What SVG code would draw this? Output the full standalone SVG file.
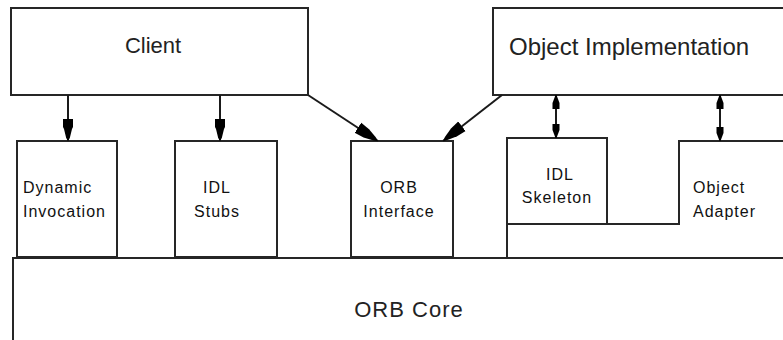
<svg xmlns="http://www.w3.org/2000/svg" width="783" height="340" viewBox="0 0 783 340">
<defs>
<style>
.box{fill:none;stroke:#262626;stroke-width:2}
.con{stroke:#1a1a1a;stroke-width:2;fill:none}
.big{font-family:"Liberation Sans",Arial,sans-serif;font-size:22px;fill:#222}
.obj{font-family:"Liberation Sans",Arial,sans-serif;font-size:24px;fill:#222}
.sm{font-family:"Liberation Sans",Arial,sans-serif;font-size:16px;letter-spacing:1px;fill:#111}
</style>
<marker id="ah" markerUnits="userSpaceOnUse" markerWidth="23" markerHeight="12" refX="22" refY="6" orient="auto">
<path d="M0,1 L8,1 L10,2 L19,4.2 L22,6 L19,7.8 L10,10 L8,11 L0,11 Z" fill="#000"/>
</marker>
<marker id="ahd" markerUnits="userSpaceOnUse" markerWidth="25" markerHeight="14" refX="24" refY="7" orient="auto">
<path d="M0,1 L10,2 L20,5 L24,7 L20,9 L10,12 L0,13 Z" fill="#000"/>
</marker>
<marker id="as" markerUnits="userSpaceOnUse" markerWidth="15" markerHeight="9" refX="14" refY="4.5" orient="auto-start-reverse">
<path d="M0,1 L6,1 L14,4 L14,5 L6,8 L0,8 Z" fill="#000"/>
</marker>
</defs>
<rect width="783" height="340" fill="#fff"/>

<g id="client">
<rect class="box" x="11" y="8" width="297" height="87"/>
<text class="big" x="153" y="53" text-anchor="middle">Client</text>
</g>
<g id="object-implementation">
<rect class="box" x="493" y="8" width="300" height="87"/>
<text class="obj" x="509" y="55">Object Implementation</text>
</g>
<g id="dynamic-invocation">
<rect class="box" x="17" y="141" width="100" height="116"/>
<text class="sm" x="23" y="193">Dynamic</text>
<text class="sm" x="23" y="217">Invocation</text>
</g>
<g id="idl-stubs">
<rect class="box" x="175" y="141" width="102" height="116"/>
<text class="sm" x="217" y="193" text-anchor="middle">IDL</text>
<text class="sm" x="217" y="217" text-anchor="middle">Stubs</text>
</g>
<g id="orb-interface">
<rect class="box" x="351" y="141" width="102" height="116"/>
<text class="sm" x="399" y="193" text-anchor="middle">ORB</text>
<text class="sm" x="399" y="217" text-anchor="middle">Interface</text>
</g>
<g id="idl-skeleton">
<path class="box" d="M507,258 V138 H607 V224"/>
<path class="box" d="M507,224 H680"/>
<text class="sm" x="560" y="180" text-anchor="middle">IDL</text>
<text class="sm" x="557" y="203" text-anchor="middle">Skeleton</text>
</g>
<g id="object-adapter">
<path class="box" d="M679,225 V141 H790"/>
<text class="sm" x="693" y="193">Object</text>
<text class="sm" x="693" y="217">Adapter</text>
</g>
<g id="orb-core">
<rect class="box" x="13" y="258" width="790" height="100"/>
<text class="big" x="409" y="317" text-anchor="middle" letter-spacing="1">ORB Core</text>
</g>

<g id="connectors">
<line class="con" x1="68" y1="95" x2="68" y2="141" marker-end="url(#ah)"/>
<line class="con" x1="220" y1="95" x2="220" y2="141" marker-end="url(#ah)"/>
<line class="con" x1="308" y1="95" x2="378" y2="141" stroke-width="1.5" marker-end="url(#ahd)"/>
<line class="con" x1="502" y1="95" x2="443" y2="141" stroke-width="1.5" marker-end="url(#ahd)"/>
<line class="con" x1="556" y1="95" x2="556" y2="138" marker-start="url(#as)" marker-end="url(#as)"/>
<line class="con" x1="720" y1="95" x2="720" y2="141" marker-start="url(#as)" marker-end="url(#as)"/>
</g>
</svg>
